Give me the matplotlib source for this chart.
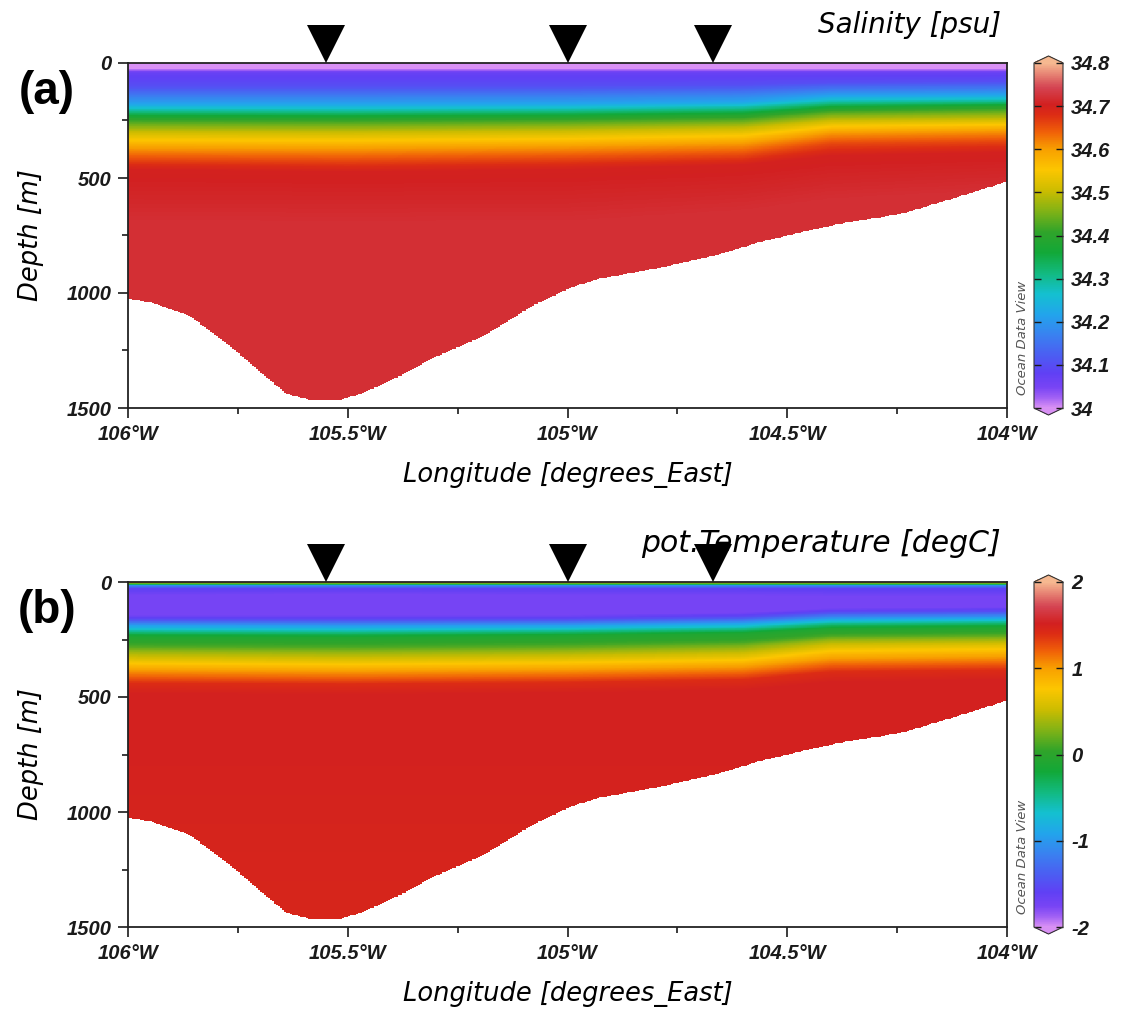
"""Salinity / potential temperature section, ODV style (two panels)."""

import numpy as np
import matplotlib

matplotlib.use("Agg")
import matplotlib.pyplot as plt
from matplotlib.colors import LinearSegmentedColormap, Normalize
from matplotlib.ticker import MultipleLocator, FuncFormatter


plt.rcParams.update(
    {
        "font.family": ["Liberation Sans", "DejaVu Sans"],
        "font.style": "italic",
        "font.weight": "bold",
        "figure.facecolor": "white",
    }
)

STATION_LON = [-105.55, -105.0, -104.67]

# longitudes where the level depths below were read
SEC_LON = [-106.0, -105.5, -105.0, -104.6, -104.4, -104.0]

SAL_LEV = [33.97, 34.00, 34.07, 34.10, 34.15, 34.22, 34.30, 34.40,
           34.50, 34.60, 34.66, 34.70, 34.72, 34.72]
SAL_DEPTH = [
    [0, 0, 0, 0, 0, 0],
    [24, 24, 24, 24, 24, 24],
    [42, 42, 42, 42, 42, 42],
    [100, 100, 100, 95, 85, 80],
    [135, 135, 132, 125, 110, 105],
    [180, 180, 178, 170, 145, 140],
    [208, 210, 206, 196, 172, 166],
    [242, 244, 240, 232, 202, 192],
    [298, 300, 294, 282, 248, 242],
    [368, 370, 362, 348, 302, 292],
    [422, 427, 417, 402, 352, 342],
    [462, 472, 462, 442, 402, 387],
    [700, 700, 700, 650, 600, 560],
    [1600, 1600, 1600, 1600, 1600, 1600],
]

TEMP_SURF = [1.3, 1.1, 1.3, 0.9, 0.9, 0.9]
TEMP_LEV = [None, 0.3, -1.0, -1.55, -1.75, -1.75, -1.5, -1.0, -0.5, -0.1,
            0.1, 0.35, 0.7, 1.0, 1.2, 1.4, 1.5, 1.5, 1.45]
TEMP_DEPTH = [
    [0, 0, 0, 0, 0, 0],
    [7, 7, 7, 7, 7, 7],
    [14, 14, 14, 14, 14, 14],
    [26, 26, 26, 26, 26, 26],
    [60, 55, 60, 60, 65, 65],
    [142, 142, 142, 132, 112, 107],
    [162, 164, 162, 152, 132, 127],
    [187, 190, 187, 177, 157, 152],
    [214, 217, 212, 202, 180, 174],
    [237, 240, 234, 224, 202, 197],
    [277, 280, 274, 262, 232, 227],
    [302, 307, 300, 287, 252, 247],
    [347, 352, 344, 332, 292, 284],
    [382, 387, 380, 367, 332, 324],
    [412, 417, 410, 397, 362, 354],
    [440, 444, 437, 424, 390, 382],
    [482, 487, 480, 467, 432, 422],
    [800, 800, 800, 800, 800, 800],
    [1600, 1600, 1600, 1600, 1600, 1600],
]

BATHY_LON = [-106.00, -105.95, -105.86, -105.76, -105.70, -105.64, -105.58,
             -105.52, -105.46, -105.38, -105.31, -105.19, -105.08, -105.00,
             -104.93, -104.79, -104.65, -104.56, -104.45, -104.36, -104.24,
             -104.11, -104.00]
BATHY_DEPTH = [1025, 1040, 1098, 1243, 1343, 1438, 1467, 1467, 1430, 1359,
               1286, 1185, 1055, 983, 939, 891, 830, 778, 728, 692, 656,
               582, 515]

SAL_TICKS = [34.0, 34.1, 34.2, 34.3, 34.4, 34.5, 34.6, 34.7, 34.8]
TEMP_TICKS = [-2, -1, 0, 1, 2]

# ODV-like default palette
ODV = LinearSegmentedColormap.from_list(
    "odv",
    [
        (0.00, "#d890f4"),
        (0.03, "#a060f4"),
        (0.06, "#7844f4"),
        (0.10, "#6040f4"),
        (0.15, "#4c5cf2"),
        (0.21, "#3a80f0"),
        (0.27, "#22a4ec"),
        (0.33, "#14c0d0"),
        (0.39, "#12ba80"),
        (0.45, "#12a838"),
        (0.51, "#30a42a"),
        (0.57, "#80b216"),
        (0.63, "#ccbc00"),
        (0.69, "#fcc600"),
        (0.75, "#f8a000"),
        (0.80, "#f06008"),
        (0.85, "#dc2c14"),
        (0.88, "#d22020"),
        (0.93, "#d44452"),
        (1.00, "#f6b890"),
    ],
    N=512,
)

W, H = 1122, 1013


def fx(px):
    return px / W


def fy(px):
    return 1 - px / H


def section_field(depths, values, lon_c, z_c):
    depths = np.asarray(depths, float)
    values = np.asarray(values, float)
    out = np.empty((z_c.size, lon_c.size))
    for j, lon in enumerate(lon_c):
        d = np.array([np.interp(lon, SEC_LON, row) for row in depths])
        v = np.array([np.interp(lon, SEC_LON, row) for row in values])
        out[:, j] = np.interp(z_c, d, v)
    bottom = np.interp(lon_c, BATHY_LON, BATHY_DEPTH)
    return np.ma.masked_where(z_c[:, None] > bottom[None, :], out)


lon_e = np.linspace(-106, -104, 441)
z_e = np.arange(0, 1503, 3.0)
lon_c = 0.5 * (lon_e[1:] + lon_e[:-1])
z_c = 0.5 * (z_e[1:] + z_e[:-1])

sal_vals = np.tile(np.array(SAL_LEV)[:, None], (1, len(SEC_LON)))
temp_vals = np.array([TEMP_SURF] + [[t] * len(SEC_LON) for t in TEMP_LEV[1:]], float)

sal = section_field(SAL_DEPTH, sal_vals, lon_c, z_c)
temp = section_field(TEMP_DEPTH, temp_vals, lon_c, z_c)

LABEL_FONT = dict(family="DejaVu Sans", style="italic", weight="normal")

fig = plt.figure(figsize=(W / 100, H / 100), dpi=100)

panels = [
    dict(top=63, field=sal, vmin=34.0, vmax=34.8, ticks=SAL_TICKS,
         title="Salinity [psu]", title_fs=20, tag="(a)"),
    dict(top=582, field=temp, vmin=-2, vmax=2, ticks=TEMP_TICKS,
         title="pot.Temperature [degC]", title_fs=21.5, tag="(b)"),
]

for p in panels:
    top = p["top"]
    bot = top + 345
    ax = fig.add_axes([fx(128), fy(bot), fx(1007) - fx(128), (bot - top) / H])
    norm = Normalize(p["vmin"], p["vmax"])
    mesh = ax.pcolormesh(lon_e, z_e, p["field"], cmap=ODV, norm=norm, shading="flat")
    ax.set_xlim(-106, -104)
    ax.set_ylim(1500, 0)

    ax.xaxis.set_major_locator(MultipleLocator(0.5))
    ax.xaxis.set_minor_locator(MultipleLocator(0.25))
    ax.xaxis.set_major_formatter(FuncFormatter(lambda v, pos: f"{abs(v):g}°W"))
    ax.yaxis.set_major_locator(MultipleLocator(500))
    ax.yaxis.set_minor_locator(MultipleLocator(250))
    ax.tick_params(which="both", direction="out", top=False, right=False,
                   width=1.2, labelsize=14.5, colors="#1a1a1a")
    ax.tick_params(which="major", length=7, pad=5)
    ax.tick_params(which="minor", length=4)
    for s in ax.spines.values():
        s.set_linewidth(1.3)
        s.set_color("#222222")

    ax.plot(STATION_LON, [-84] * len(STATION_LON), ls="none", marker="v",
            ms=28, mew=0, color="black", clip_on=False, zorder=10)

    ax.set_xlabel("Longitude [degrees_East]", fontsize=18.5, labelpad=13, **LABEL_FONT)
    ax.set_ylabel("Depth [m]", fontsize=18.5, labelpad=16, **LABEL_FONT)
    fig.text(fx(1001), fy(top - 38), p["title"], ha="right", va="center",
             fontsize=p["title_fs"], **LABEL_FONT)
    fig.text(fx(47), fy(top + 29), p["tag"], ha="center", va="center",
             fontsize=33, family="Liberation Sans", weight="bold", style="normal")

    cax = fig.add_axes([fx(1034), fy(bot + 7), fx(1063) - fx(1034), (bot - top + 14) / H])
    cb = fig.colorbar(mesh, cax=cax, extend="both", extendfrac=0.02, ticks=p["ticks"])
    cb.ax.yaxis.set_major_formatter(FuncFormatter(lambda v, pos: f"{v:g}"))
    cb.outline.set_linewidth(0.8)
    cb.outline.set_edgecolor("#333333")
    cax.tick_params(which="major", direction="in", left=True, right=True,
                    length=5, width=1, labelsize=14.5, pad=6, colors="#1a1a1a")
    cax.minorticks_off()
    fig.text(fx(1023), fy(top + 332), "Ocean Data View", rotation=90,
             ha="center", va="bottom", fontsize=9.5, color="#555555", **LABEL_FONT)

fig.savefig("out.png", dpi=100)
